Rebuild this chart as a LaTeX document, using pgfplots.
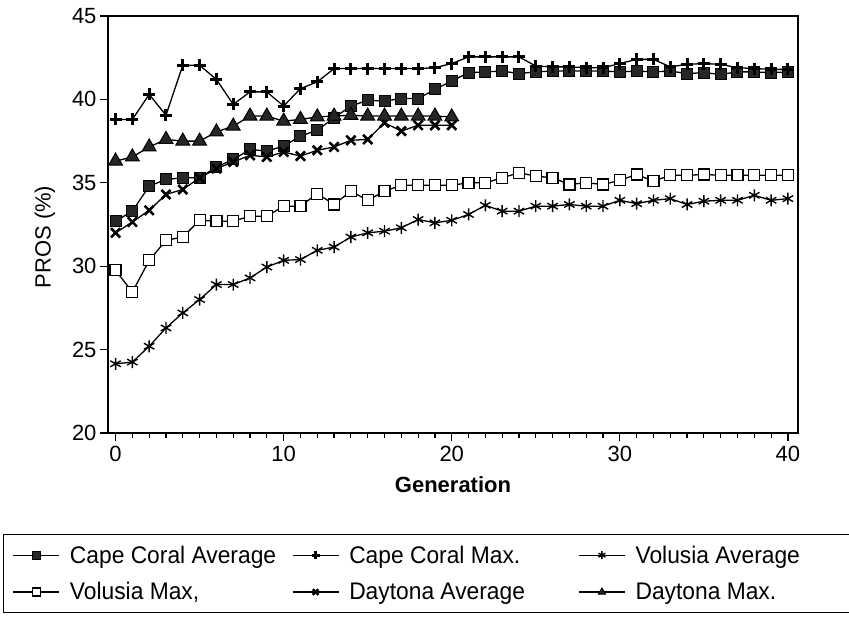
\documentclass[border=0pt]{standalone}
\usepackage{fontspec}
\setmainfont{Liberation Sans}
\newfontfamily\legfont[FakeStretch=0.95]{Liberation Sans}
\usepackage{pgfplots}
\pgfplotsset{compat=1.18}
\begin{document}
\begin{tikzpicture}
\path[use as bounding box] (0,0) rectangle (849bp,-622bp);
\begin{axis}[
  at={(108bp,-433bp)}, anchor=south west,
  scale only axis, width=690bp, height=417bp,
  xmin=-0.45, xmax=40.6, ymin=20, ymax=45,
  xtick={0,10,20,30,40}, ytick={20,25,30,35,40,45},
  minor x tick num=9,
  tick align=outside, xtick pos=bottom, ytick pos=left,
  major tick length=8bp, minor tick length=5bp,
  every tick/.style={black, line width=1.2bp},
  axis line style={line width=1.6bp},
  /pgf/number format/assume math mode=true,
  tick label style={font=\fontsize{22bp}{26bp}\selectfont},
  xticklabel style={yshift=-2bp},
  label style={font=\fontsize{22bp}{26bp}\selectfont},
  xlabel={\bfseries Generation}, ylabel={PROS (\%)},
  xlabel style={at={(axis description cs:0.5,-0.125)}, anchor=center},
  ylabel style={at={(axis description cs:-0.0913,0.47)}, anchor=center},
  legend columns=3,
  legend cell align=left,
  legend image code/.code={%
    \draw[mark repeat=2,mark phase=2,#1] plot coordinates {(0bp,0bp) (23bp,0bp) (46bp,0bp)};
    \path (56bp,0bp);},
  legend image post style={mark size=4bp},
  legend style={at={(axis description cs:-0.1522,-0.2422)}, anchor=north west,
    draw=black, line width=1.4bp, inner xsep=9bp, inner ysep=11bp,
    cells={anchor=west}, nodes={inner sep=0pt},
    /tikz/row sep=18bp, /tikz/column sep=0pt,
    font=\legfont\fontsize{24bp}{28bp}\selectfont},
]
\addplot[black, line width=1.3bp, mark=square*, mark size=5.5bp, mark options={solid, fill=black!85, line width=1bp}] coordinates {
(0,32.7) (1,33.3) (2,34.8) (3,35.2) (4,35.3) (5,35.3) (6,35.95) (7,36.4) (8,37.0) (9,36.9) (10,37.2)
(11,37.8) (12,38.15) (13,38.9) (14,39.6) (15,39.95) (16,39.9) (17,40.05) (18,40.05) (19,40.6) (20,41.1)
(21,41.6) (22,41.65) (23,41.7) (24,41.55) (25,41.65) (26,41.7) (27,41.7) (28,41.7) (29,41.7) (30,41.65)
(31,41.7) (32,41.65) (33,41.7) (34,41.55) (35,41.6) (36,41.5) (37,41.65) (38,41.65) (39,41.6) (40,41.65)};
\addlegendentry{\makebox[222bp][l]{Cape Coral Average}}
\addplot[black, line width=1.3bp, mark=+, mark size=6bp, mark options={solid, line width=3bp}] coordinates {
(0,38.8) (1,38.8) (2,40.3) (3,39.05) (4,42.05) (5,42.05) (6,41.2) (7,39.7) (8,40.45) (9,40.45) (10,39.6)
(11,40.65) (12,41.05) (13,41.85) (14,41.85) (15,41.85) (16,41.85) (17,41.85) (18,41.85) (19,41.9) (20,42.15)
(21,42.55) (22,42.55) (23,42.55) (24,42.55) (25,42.0) (26,41.95) (27,41.95) (28,41.9) (29,41.9) (30,42.15)
(31,42.4) (32,42.4) (33,41.95) (34,42.1) (35,42.15) (36,42.1) (37,41.9) (38,41.85) (39,41.8) (40,41.8)};
\addlegendentry{\makebox[229bp][l]{Cape Coral Max.}}
\addplot[black, line width=1.3bp, mark=asterisk, mark size=6bp, mark options={solid, line width=1.4bp}] coordinates {
(0,24.15) (1,24.25) (2,25.2) (3,26.3) (4,27.2) (5,28.0) (6,28.9) (7,28.9) (8,29.3) (9,29.95) (10,30.35)
(11,30.4) (12,30.95) (13,31.15) (14,31.75) (15,32.0) (16,32.1) (17,32.3) (18,32.8) (19,32.6) (20,32.75)
(21,33.1) (22,33.65) (23,33.3) (24,33.3) (25,33.6) (26,33.6) (27,33.7) (28,33.6) (29,33.6) (30,33.95)
(31,33.75) (32,33.95) (33,34.05) (34,33.7) (35,33.9) (36,33.95) (37,33.95) (38,34.25) (39,33.95) (40,34.05)};
\addlegendentry{\makebox[208bp][l]{Volusia Average}}
\addplot[black, line width=1.3bp, mark=square*, mark size=5.5bp, mark options={solid, fill=white, line width=1.2bp}] coordinates {
(0,29.75) (1,28.45) (2,30.35) (3,31.55) (4,31.75) (5,32.75) (6,32.7) (7,32.7) (8,33.0) (9,33.0) (10,33.6)
(11,33.6) (12,34.35) (13,33.7) (14,34.5) (15,33.95) (16,34.5) (17,34.85) (18,34.85) (19,34.85) (20,34.85)
(21,35.0) (22,35.0) (23,35.3) (24,35.6) (25,35.4) (26,35.3) (27,34.9) (28,35.0) (29,34.9) (30,35.15)
(31,35.5) (32,35.1) (33,35.45) (34,35.45) (35,35.5) (36,35.45) (37,35.45) (38,35.45) (39,35.45) (40,35.45)};
\addlegendentry{\makebox[222bp][l]{Volusia Max,}}
\addplot[black, line width=1.3bp, mark=x, mark size=6.5bp, mark options={solid, line width=2.6bp}] coordinates {
(0,32.0) (1,32.65) (2,33.35) (3,34.3) (4,34.6) (5,35.3) (6,35.85) (7,36.25) (8,36.65) (9,36.55) (10,36.85)
(11,36.6) (12,36.95) (13,37.15) (14,37.55) (15,37.6) (16,38.6) (17,38.1) (18,38.45) (19,38.45) (20,38.45)};
\addlegendentry{\makebox[229bp][l]{Daytona Average}}
\addplot[black, line width=1.3bp, mark=triangle*, mark size=8bp, mark options={solid, fill=black!85, line width=1bp}] coordinates {
(0,36.3) (1,36.55) (2,37.15) (3,37.6) (4,37.5) (5,37.5) (6,38.05) (7,38.4) (8,39.0) (9,39.0) (10,38.7)
(11,38.8) (12,38.95) (13,39.0) (14,39.05) (15,39.0) (16,39.0) (17,39.0) (18,39.0) (19,39.0) (20,38.95)};
\addlegendentry{\makebox[208bp][l]{Daytona Max.}}
\end{axis}
\end{tikzpicture}
\end{document}
